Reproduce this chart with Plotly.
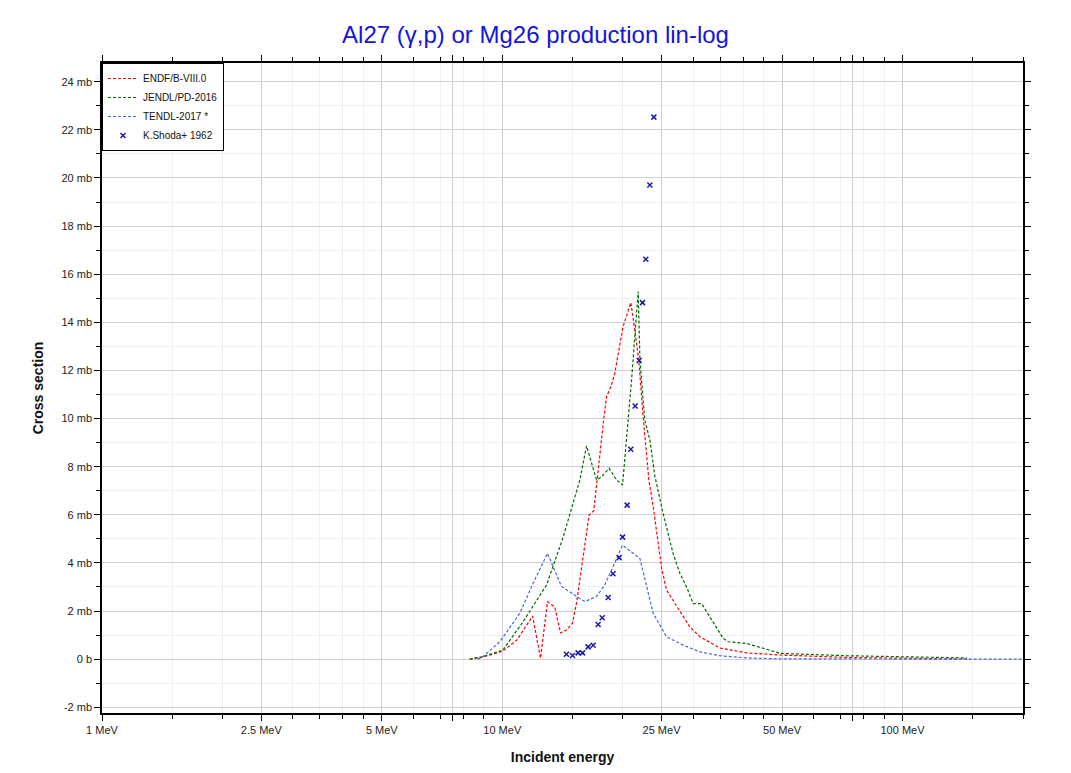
import plotly.graph_objects as go

# ENDF/B-VIII.0
endf_e = [8.29, 8.93, 10.03, 10.87, 11.91, 12.46, 12.97, 13.52, 13.98, 14.47, 14.98, 15.33, 16.48, 16.93,
          17.94, 18.22, 18.75, 19.10, 20.04, 20.95, 21.32, 21.93, 22.45, 23.24, 23.83, 25.0, 25.73, 27.79,
          29.42, 31.17, 34.97, 40.78, 49.4, 72.5, 106.3, 147.5]
endf_xs = [0.0, 0.08, 0.33, 0.79, 1.79, 0.04, 2.38, 2.17, 1.09, 1.21, 1.50, 2.33, 5.99, 6.17,
           10.02, 10.9, 11.4, 11.88, 13.82, 14.82, 13.98, 12.44, 10.23, 7.45, 6.34, 3.8, 2.87, 1.97,
           1.34, 0.93, 0.46, 0.26, 0.17, 0.07, 0.03, 0.0]

# JENDL/PD-2016
jendl_e = [8.29, 8.93, 10.03, 11.27, 12.9, 14.19, 15.63, 16.24, 17.2, 17.7, 18.49, 19.3, 19.98, 21.04,
           21.86, 22.08, 22.7, 23.38, 24.05, 25.23, 26.73, 27.79, 28.87, 29.99, 31.48, 33.01, 35.65,
           36.69, 40.78, 44.87, 49.4, 72.5, 106.5, 144.7]
jendl_xs = [0.0, 0.10, 0.37, 1.55, 3.08, 5.06, 7.45, 8.86, 7.45, 7.58, 7.93, 7.45, 7.24, 11.6,
            15.28, 12.44, 9.94, 9.11, 7.62, 6.05, 4.38, 3.56, 3.0, 2.31, 2.31, 1.75, 0.86,
            0.72, 0.65, 0.45, 0.24, 0.14, 0.10, 0.05]

# TENDL-2017
tendl_e = [8.68, 8.95, 9.86, 11.06, 11.94, 12.97, 14.06, 15.33, 16.07, 17.2, 18.03, 18.91, 19.98, 22.08,
           23.83, 25.73, 28.31, 31.17, 34.97, 40.78, 49.4, 100.0, 200.0]
tendl_xs = [0.0, 0.10, 0.72, 1.90, 3.15, 4.40, 3.02, 2.60, 2.39, 2.60, 3.08, 3.84, 4.74, 4.18,
            1.90, 0.93, 0.58, 0.30, 0.14, 0.05, 0.01, 0.003, 0.0]

# K.Shoda+ 1962
exp_e = [14.47, 14.98, 15.47, 15.87, 16.39, 16.87, 17.36, 17.77, 18.39, 18.91, 19.59, 19.98, 20.51,
         20.95, 21.48, 21.98, 22.41, 22.84, 23.38, 23.92]
exp_xs = [0.20, 0.15, 0.26, 0.26, 0.51, 0.58, 1.44, 1.72, 2.56, 3.55, 4.22, 5.07, 6.40,
          8.72, 10.52, 12.41, 14.82, 16.62, 19.71, 22.53]

x_tick_vals = [1, 2.5, 5, 7.5, 10, 25, 50, 75, 100]
x_tick_text = ["1 MeV", "2.5 MeV", "5 MeV", "", "10 MeV", "25 MeV", "50 MeV", "", "100 MeV"]
x_minor_vals = [1.5, 2, 3, 3.5, 4, 4.5, 6, 7, 8, 9, 15, 20, 30, 35, 40, 45, 60, 70, 80, 90, 150, 200]
y_tick_vals = [-2, 0, 2, 4, 6, 8, 10, 12, 14, 16, 18, 20, 22, 24]
y_tick_text = ["-2 mb", "0 b", "2 mb", "4 mb", "6 mb", "8 mb", "10 mb", "12 mb", "14 mb",
               "16 mb", "18 mb", "20 mb", "22 mb", "24 mb"]

FONT = "Liberation Sans, Arial, sans-serif"

fig = go.Figure()
fig.add_trace(go.Scatter(x=endf_e, y=endf_xs, mode="lines", name="ENDF/B-VIII.0",
                         line=dict(color="#ff0000", width=1.2, dash="3px,2px")))
fig.add_trace(go.Scatter(x=jendl_e, y=jendl_xs, mode="lines", name="JENDL/PD-2016",
                         line=dict(color="#006d00", width=1.2, dash="3px,2px")))
fig.add_trace(go.Scatter(x=tendl_e, y=tendl_xs, mode="lines", name="TENDL-2017 *",
                         line=dict(color="#4169e1", width=1.2, dash="3px,2px")))
fig.add_trace(go.Scatter(x=exp_e, y=exp_xs, mode="markers", name="K.Shoda+ 1962",
                         marker=dict(symbol="x-thin", size=5, color="#1a1aaa",
                                     line=dict(width=1.5, color="#1a1aaa"))))

fig.update_layout(
    width=1055, height=757,
    margin=dict(l=94, r=40, t=55, b=52),
    paper_bgcolor="white", plot_bgcolor="white",
    font=dict(family=FONT, size=11, color="#222222"),
    title=dict(text="Al27 (γ,p) or Mg26 production lin-log", x=0.5, xanchor="center",
               y=0.965, yanchor="middle",
               font=dict(family=FONT, size=24, color="#1414dc")),
    showlegend=True,
    legend=dict(x=0, y=1, xanchor="left", yanchor="top", bgcolor="white",
                bordercolor="#000000", borderwidth=1, font=dict(family=FONT, size=10, color="#111111"),
                tracegroupgap=0, itemwidth=30),
)
fig.update_xaxes(
    type="log", range=[0, 2.30103], automargin=False,
    tickmode="array", tickvals=x_tick_vals, ticktext=x_tick_text,
    showgrid=True, gridcolor="#cfcfcf", gridwidth=1,
    showline=True, linecolor="#000000", linewidth=1.5, mirror="ticks",
    ticks="outside", ticklen=6, tickcolor="#000000",
    minor=dict(tickmode="array", tickvals=x_minor_vals, ticks="outside", ticklen=4,
               tickcolor="#000000", showgrid=True, gridcolor="#efefef"),
    title=dict(text="<b>Incident energy</b>", font=dict(family=FONT, size=14, color="#111111"), standoff=18),
    zeroline=False,
)
fig.update_yaxes(
    range=[-2.24, 24.78], automargin=False,
    tickmode="array", tickvals=y_tick_vals, ticktext=y_tick_text,
    showgrid=True, gridcolor="#cfcfcf", gridwidth=1,
    showline=True, linecolor="#000000", linewidth=1.5, mirror="ticks",
    ticks="outside", ticklen=6, tickcolor="#000000",
    minor=dict(dtick=1, ticks="outside", ticklen=4, tickcolor="#000000",
               showgrid=True, gridcolor="#efefef"),
    title=dict(text="<b>Cross section</b>", font=dict(family=FONT, size=14, color="#111111"), standoff=15),
    zeroline=False,
)

fig.write_html("out.html")
